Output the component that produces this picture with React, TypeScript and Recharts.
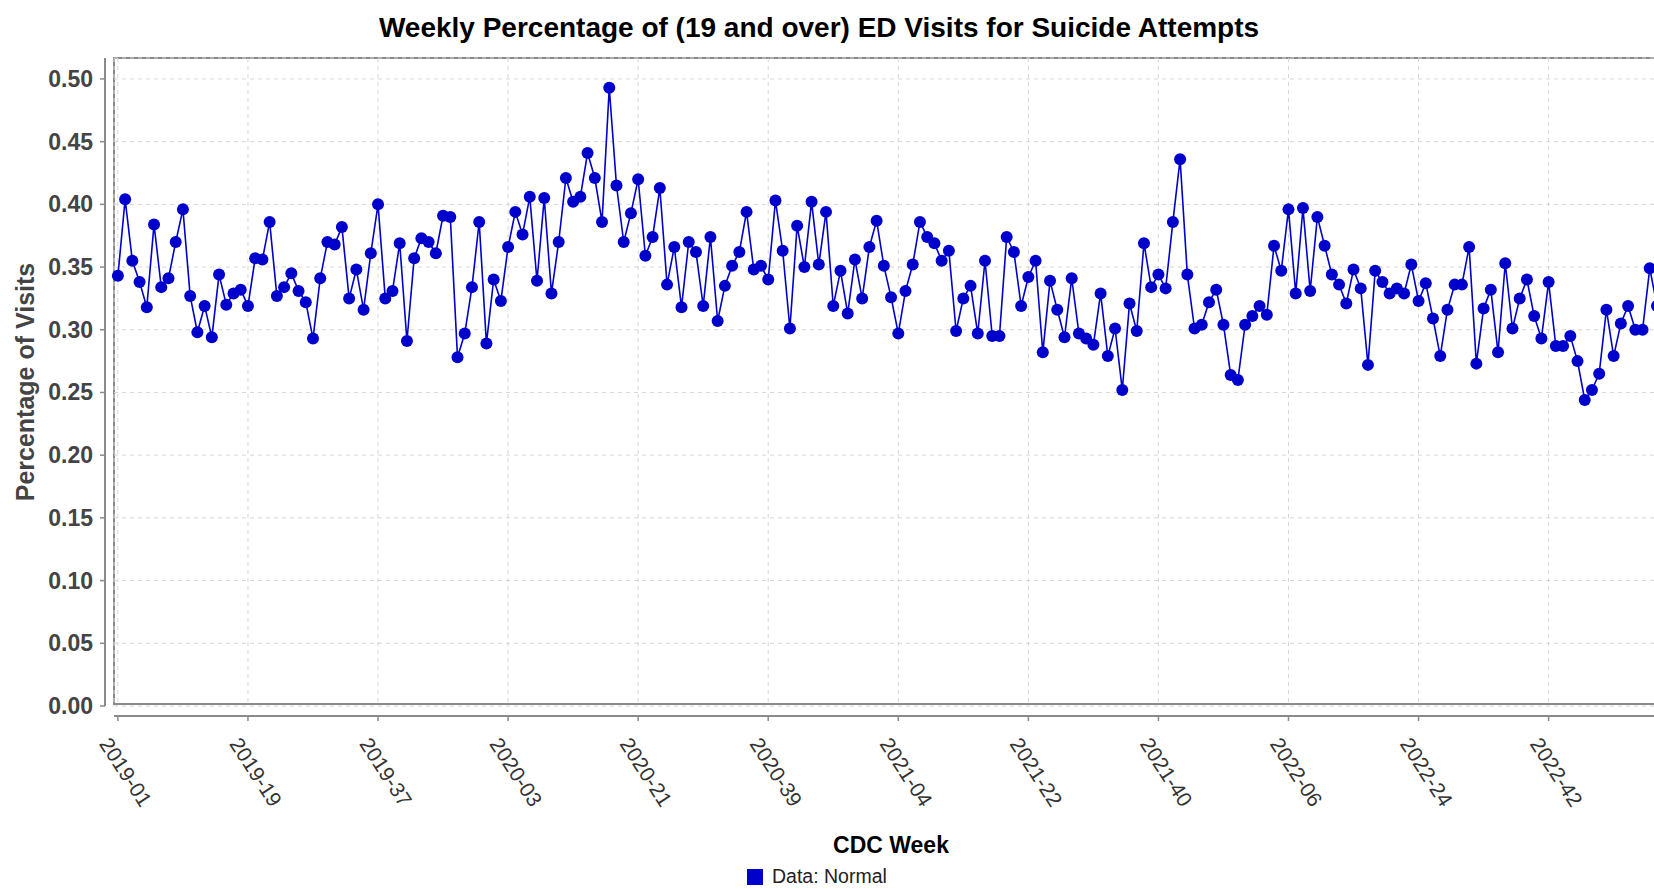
import React from 'react';
import { LineChart, Line, XAxis, YAxis, CartesianGrid } from 'recharts';

// CDC weeks per year covered by the series (2019-01 .. 2023-05)
const yearWeekCounts: [number, number][] = [
  [2019, 52],
  [2020, 53],
  [2021, 52],
  [2022, 52],
  [2023, 5],
];
const weeks: string[] = [];
for (const [yr, n] of yearWeekCounts) {
  for (let w = 1; w <= n; w++) weeks.push(`${yr}-${String(w).padStart(2, '0')}`);
}

const percentVisits: number[] = [
  0.343, 0.404, 0.355, 0.338, 0.318, 0.384, 0.334, 0.341, 0.370, 0.396,
  0.327, 0.298, 0.319, 0.294, 0.344, 0.320, 0.329, 0.332, 0.319, 0.357,
  0.356, 0.386, 0.327, 0.334, 0.345, 0.331, 0.322, 0.293, 0.341, 0.370,
  0.368, 0.382, 0.325, 0.348, 0.316, 0.361, 0.400, 0.325, 0.331, 0.369,
  0.291, 0.357, 0.373, 0.370, 0.361, 0.391, 0.390, 0.278, 0.297, 0.334,
  0.386, 0.289, 0.340, 0.323, 0.366, 0.394, 0.376, 0.406, 0.339, 0.405,
  0.329, 0.370, 0.421, 0.402, 0.406, 0.441, 0.421, 0.386, 0.493, 0.415,
  0.370, 0.393, 0.420, 0.359, 0.374, 0.413, 0.336, 0.366, 0.318, 0.370,
  0.362, 0.319, 0.374, 0.307, 0.335, 0.351, 0.362, 0.394, 0.348, 0.351,
  0.340, 0.403, 0.363, 0.301, 0.383, 0.350, 0.402, 0.352, 0.394, 0.319,
  0.347, 0.313, 0.356, 0.325, 0.366, 0.387, 0.351, 0.326, 0.297, 0.331,
  0.352, 0.386, 0.374, 0.369, 0.355, 0.363, 0.299, 0.325, 0.335, 0.297,
  0.355, 0.295, 0.295, 0.374, 0.362, 0.319, 0.342, 0.355, 0.282, 0.339,
  0.316, 0.294, 0.341, 0.297, 0.293, 0.288, 0.329, 0.279, 0.301, 0.252,
  0.321, 0.299, 0.369, 0.334, 0.344, 0.333, 0.386, 0.436, 0.344, 0.301,
  0.304, 0.322, 0.332, 0.304, 0.264, 0.260, 0.304, 0.311, 0.319, 0.312,
  0.367, 0.347, 0.396, 0.329, 0.397, 0.331, 0.390, 0.367, 0.344, 0.336,
  0.321, 0.348, 0.333, 0.272, 0.347, 0.338, 0.329, 0.333, 0.329, 0.352,
  0.323, 0.337, 0.309, 0.279, 0.316, 0.336, 0.336, 0.366, 0.273, 0.317,
  0.332, 0.282, 0.353, 0.301, 0.325, 0.340, 0.311, 0.293, 0.338, 0.287,
  0.287, 0.295, 0.275, 0.244, 0.252, 0.265, 0.316, 0.279, 0.305, 0.319,
  0.300, 0.300, 0.349, 0.319,
];

const xTickLabels: string[] = [
  '2019-01', '2019-19', '2019-37', '2020-03', '2020-21', '2020-39',
  '2021-04', '2021-22', '2021-40', '2022-06', '2022-24', '2022-42',
];
const yTicks: number[] = [0, 0.05, 0.1, 0.15, 0.2, 0.25, 0.3, 0.35, 0.4, 0.45, 0.5];

const data = weeks.map((week, i) => ({ week, value: percentVisits[i] }));

const FONT = '"Liberation Sans", Arial, Helvetica, sans-serif';
const BLUE = '#0000CC';
const AXIS_GRAY = '#8a8a8a';

const PLOT_LEFT = 114;
const PLOT_TOP = 58;
const PLOT_BOTTOM = 706;
const PLOT_RIGHT = 1668;
const CHART_W = 1700;
const CHART_H = 889;

const YTick = (props: any) => {
  const { y, payload } = props;
  return (
    <g>
      <line x1={100} x2={105} y1={y} y2={y} stroke={AXIS_GRAY} strokeWidth={1.5} />
      <text
        x={93}
        y={y}
        textAnchor="end"
        dominantBaseline="central"
        fontSize={23}
        fontWeight="bold"
        fill="#444"
        fontFamily={FONT}
      >
        {Number(payload.value).toFixed(2)}
      </text>
    </g>
  );
};

const XTick = (props: any) => {
  const { x, payload } = props;
  return (
    <g>
      <line x1={x} x2={x} y1={716} y2={721} stroke={AXIS_GRAY} strokeWidth={1.5} />
      <text
        transform={`translate(${x + 8},772) rotate(57)`}
        textAnchor="middle"
        dominantBaseline="central"
        fontSize={21}
        fill="#333"
        fontFamily={FONT}
      >
        {payload.value}
      </text>
    </g>
  );
};

export default function App() {
  const xAxisHeight = 120;
  return (
    <div
      style={{
        position: 'relative',
        width: 1654,
        height: 889,
        overflow: 'hidden',
        background: '#fff',
        fontFamily: FONT,
      }}
    >
      <style>{`body{margin:0;overflow:hidden;background:#fff}`}</style>

      {/* plot border (below the series) */}
      <div
        style={{
          position: 'absolute',
          left: PLOT_LEFT - 1,
          top: PLOT_TOP - 1,
          width: PLOT_RIGHT - PLOT_LEFT,
          height: PLOT_BOTTOM - PLOT_TOP,
          border: `2px solid ${AXIS_GRAY}`,
          boxSizing: 'border-box',
        }}
      />

      <div style={{ position: 'absolute', left: 0, top: 0 }}>
        <LineChart
          width={CHART_W}
          height={CHART_H}
          data={data}
          margin={{
            top: PLOT_TOP,
            left: 0,
            right: CHART_W - PLOT_RIGHT,
            bottom: CHART_H - PLOT_BOTTOM - xAxisHeight,
          }}
        >
          <CartesianGrid stroke="#d6d6d6" strokeDasharray="4 4" strokeWidth={1} />
          <XAxis
            dataKey="week"
            ticks={xTickLabels}
            tick={<XTick />}
            tickLine={false}
            axisLine={false}
            height={xAxisHeight}
            padding={{ left: 3.9, right: 11 }}
            interval={0}
          />
          <YAxis
            width={PLOT_LEFT}
            domain={[0, 0.5167]}
            ticks={yTicks}
            type="number"
            allowDataOverflow
            tick={<YTick />}
            tickLine={false}
            axisLine={false}
          />
          <Line
            type="linear"
            dataKey="value"
            stroke={BLUE}
            strokeWidth={1.6}
            dot={{ r: 6, fill: BLUE, stroke: BLUE, strokeWidth: 0 }}
            activeDot={false}
            isAnimationActive={false}
          />
        </LineChart>
      </div>

      {/* y axis line */}
      <div
        style={{
          position: 'absolute',
          left: 104,
          top: PLOT_TOP,
          width: 2,
          height: PLOT_BOTTOM - PLOT_TOP,
          background: AXIS_GRAY,
        }}
      />
      {/* x axis line */}
      <div
        style={{
          position: 'absolute',
          left: PLOT_LEFT,
          top: 715,
          width: PLOT_RIGHT - PLOT_LEFT,
          height: 2,
          background: AXIS_GRAY,
        }}
      />

      {/* title */}
      <div
        style={{
          position: 'absolute',
          left: 819,
          top: 13,
          transform: 'translateX(-50%)',
          whiteSpace: 'nowrap',
          fontSize: 28,
          lineHeight: '30px',
          fontWeight: 'bold',
          color: '#000',
        }}
      >
        Weekly Percentage of (19 and over) ED Visits for Suicide Attempts
      </div>

      {/* y axis label */}
      <div
        style={{
          position: 'absolute',
          left: 25,
          top: 382,
          transform: 'translate(-50%, -50%) rotate(-90deg)',
          whiteSpace: 'nowrap',
          fontSize: 25,
          lineHeight: '28px',
          fontWeight: 'bold',
          color: '#444',
        }}
      >
        Percentage of Visits
      </div>

      {/* x axis label */}
      <div
        style={{
          position: 'absolute',
          left: 891,
          top: 845,
          transform: 'translate(-50%, -50%)',
          whiteSpace: 'nowrap',
          fontSize: 23,
          lineHeight: '26px',
          fontWeight: 'bold',
          color: '#000',
        }}
      >
        CDC Week
      </div>

      {/* legend */}
      <div
        style={{
          position: 'absolute',
          left: 747,
          top: 869,
          width: 16,
          height: 16,
          background: BLUE,
        }}
      />
      <div
        style={{
          position: 'absolute',
          left: 772,
          top: 866,
          whiteSpace: 'nowrap',
          fontSize: 19.5,
          lineHeight: '21px',
          color: '#222',
        }}
      >
        Data: Normal
      </div>
    </div>
  );
}
